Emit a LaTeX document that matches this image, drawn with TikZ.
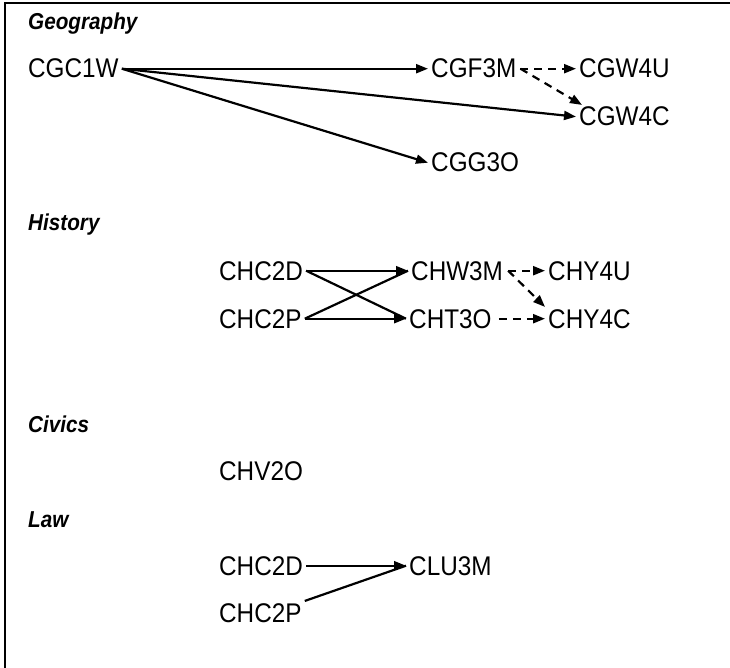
\documentclass[tikz,border=0pt]{standalone}
\usepackage{fontspec}
\setmainfont{Liberation Sans}[FakeStretch=0.9]
\usetikzlibrary{arrows.meta}

\begin{document}
\begin{tikzpicture}[x=1pt, y=-1pt,
        course/.style = {anchor=base west, inner xsep=3pt, inner ysep=2pt, font=\fontsize{27}{30}\selectfont},
        subject/.style = {anchor=base west, inner sep=0pt, font=\fontsize{23}{28}\selectfont\bfseries\itshape},
        prereq/.style = {line width=2.2pt, -{Triangle[length=12pt,width=9pt]}},
        joins/.style = {line width=2.2pt},
        option/.style = {prereq, dash pattern=on 8pt off 6pt}]
        \useasboundingbox (0,0) rectangle (730,668);
        \draw[line width=2pt] (5,668) -- (5,3) -- (730,3);
        % geography
        \node (geo)[subject] at (28,30) {Geography};
        \node (cgc1w)[course] at (25,78) {CGC1W};
        \node (cgf3m)[course] at (428,78) {CGF3M};
        \node (cgw4u)[course] at (576,78) {CGW4U};
        \node (cgw4c)[course] at (576,126) {CGW4C};
        \node (cgg3o)[course] at (428,172) {CGG3O};
        \path (cgc1w.east) edge[prereq] (cgf3m.west);
        \path (cgc1w.east) edge[prereq] (cgw4c.west);
        \path (cgc1w.east) edge[prereq] (cgg3o.west);
        \path ([xshift=1pt]cgf3m.east) edge[option] (cgw4u.west);
        \path ([xshift=1pt]cgf3m.east) edge[option] ([xshift=6pt]cgw4c.north west);
        % history
        \node (hist)[subject] at (28,230) {History};
        \node (chc2d)[course] at (216,280) {CHC2D};
        \node (chc2p)[course] at (216,328) {CHC2P};
        \node (chw3m)[course] at (408,280) {CHW3M};
        \node (cht3o)[course] at (406,328) {CHT3O};
        \node (chy4u)[course] at (545,280) {CHY4U};
        \node (chy4c)[course] at (545,328) {CHY4C};
        \path (chc2d.east) edge[prereq] (chw3m.west);
        \path (chc2p.east) edge[prereq] (cht3o.west);
        \path (chc2d.east) edge[joins] (cht3o.west);
        \path (chc2p.east) edge[joins] (chw3m.west);
        \path ([xshift=2pt]chw3m.east) edge[option] (chy4u.west);
        \path ([xshift=2pt]chw3m.east) edge[option] (chy4c.north west);
        \path ([xshift=4pt]cht3o.east) edge[option] (chy4c.west);
        % civics
        \node (civ)[subject] at (28,432) {Civics};
        \node (chv2o)[course] at (216,480) {CHV2O};
        % law
        \node (law)[subject] at (28,527) {Law};
        \node (lawd)[course] at (216,575) {CHC2D};
        \node (lawp)[course] at (216,622) {CHC2P};
        \node (clu3m)[course] at (406,575) {CLU3M};
        \path (lawd.east) edge[prereq] (clu3m.west);
        \path (lawp.north east) edge[joins] (clu3m.west);
\end{tikzpicture}
\end{document}
